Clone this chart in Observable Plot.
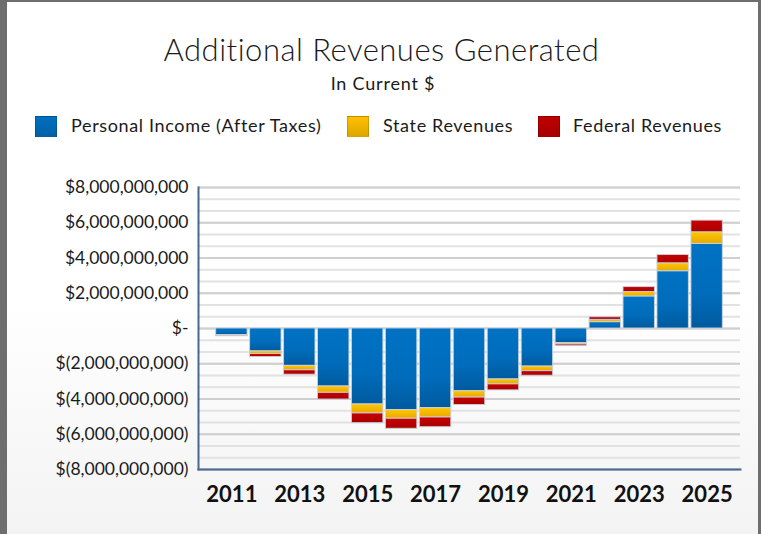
<!DOCTYPE html>
<html>
<head>
<meta charset="utf-8">
<script src="https://cdn.jsdelivr.net/npm/d3@7"></script>
<script src="https://cdn.jsdelivr.net/npm/@observablehq/plot@0.6"></script>
<style>
  html, body { margin: 0; padding: 0; background: #6e6e6e; }
  #frame { position: relative; width: 761px; height: 534px; background: #6e6e6e; overflow: hidden; font-family: Lato, "Noto Sans", sans-serif; }
  #panel { position: absolute; left: 7px; top: 2px; width: 751px; height: 532px;
           background: linear-gradient(#ffffff 0%, #ffffff 55%, #f3f3f3 100%); }
  .abs { position: absolute; white-space: nowrap; color: #1a1a1a; }
  #title { left: 0; width: 763px; text-align: center; top: 31px; font-size: 31px; line-height: 36px; font-weight: 300; letter-spacing: 0.5px; }
  #subtitle { left: 0; width: 766px; text-align: center; top: 72px; font-size: 18px; line-height: 22px; letter-spacing: 0.8px; }
  .sw { position: absolute; width: 22px; height: 21px; box-sizing: border-box; border: 1px solid rgba(0,0,0,0.15); }
  .lt { position: absolute; font-size: 18px; line-height: 22px; color: #1a1a1a; white-space: nowrap; letter-spacing: 0.65px; }
  #chart { position: absolute; left: 0; top: 170px; }
</style>
</head>
<body>
<svg width="0" height="0" style="position:absolute">
  <defs>
    <linearGradient id="gBlue" x1="0" y1="0" x2="0" y2="1">
      <stop offset="0" stop-color="#0072c4"/>
      <stop offset="0.6" stop-color="#006cbb"/>
      <stop offset="1" stop-color="#005a9e"/>
    </linearGradient>
    <linearGradient id="gYellow" x1="0" y1="0" x2="0" y2="1">
      <stop offset="0" stop-color="#ffc600"/>
      <stop offset="1" stop-color="#e8a900"/>
    </linearGradient>
    <linearGradient id="gRed" x1="0" y1="0" x2="0" y2="1">
      <stop offset="0" stop-color="#c80000"/>
      <stop offset="1" stop-color="#a80000"/>
    </linearGradient>
  </defs>
</svg>
<div id="frame">
  <div id="panel"></div>
  <div id="title" class="abs">Additional Revenues Generated</div>
  <div id="subtitle" class="abs">In Current $</div>
  <div id="legend"></div>
  <div id="chart"></div>
</div>
<script>
// ---- data (values in billions of dollars) ----
const years = ["2011","2012","2013","2014","2015","2016","2017","2018","2019","2020","2021","2022","2023","2024","2025"];
const personalIncome = [-0.38, -1.30, -2.12, -3.29, -4.31, -4.63, -4.52, -3.56, -2.89, -2.16, -0.83, 0.36, 1.82, 3.25, 4.80];
const stateRevenues  = [-0.03, -0.15, -0.25, -0.36, -0.51, -0.49, -0.53, -0.36, -0.28, -0.26, -0.08, 0.13, 0.25, 0.45, 0.66];
const federalRevenues= [-0.03, -0.17, -0.25, -0.38, -0.55, -0.57, -0.55, -0.42, -0.34, -0.26, -0.09, 0.15, 0.28, 0.47, 0.66];
const seriesNames = ["Personal Income (After Taxes)", "State Revenues", "Federal Revenues"];
const seriesColors = ["#0070c0", "#ffc000", "#c00000"];
const seriesFills = ["url(#gBlue)", "url(#gYellow)", "url(#gRed)"];
const yTicks = [-8e9, -6e9, -4e9, -2e9, 0, 2e9, 4e9, 6e9, 8e9];
const xTickLabels = ["2011","2013","2015","2017","2019","2021","2023","2025"];

// ---- table for Plot ----
const seriesValues = [personalIncome, stateRevenues, federalRevenues];
const table = [];
years.forEach((yr, i) => {
  seriesNames.forEach((s, k) => table.push({year: yr, series: s, value: seriesValues[k][i] * 1e9}));
});

// ---- legend ----
const legendPos = [{sw: 35, tx: 71}, {sw: 347, tx: 383}, {sw: 538, tx: 573}];
const legend = document.getElementById("legend");
seriesNames.forEach((s, k) => {
  const sw = document.createElement("div");
  sw.className = "sw";
  sw.style.left = legendPos[k].sw + "px";
  sw.style.top = "116px";
  sw.style.background = `linear-gradient(${seriesColors[k]}, ${d3.color(seriesColors[k]).darker(0.4)})`;
  legend.appendChild(sw);
  const t = document.createElement("div");
  t.className = "lt";
  t.style.left = legendPos[k].tx + "px";
  t.style.top = "114px";
  t.textContent = s;
  legend.appendChild(t);
});

// ---- chart ----
const fmt = d3.format(",");
const yFormat = d => d === 0 ? "$-" : d > 0 ? "$" + fmt(d) : "$(" + fmt(-d) + ")";
const minorGrid = d3.range(-12, 13).map(k => k * 2e9 / 3);

const plot = Plot.plot({
  width: 761,
  height: 340,
  marginLeft: 198,
  marginRight: 21,
  marginTop: 17,
  marginBottom: 41,
  style: {background: "transparent", fontFamily: "Lato, 'Noto Sans', sans-serif", color: "#1a1a1a", overflow: "visible"},
  x: {type: "band", domain: years, paddingInner: 0.074, paddingOuter: 0.52, round: false, label: null},
  y: {domain: [-8e9, 8e9], label: null},
  color: {domain: seriesNames, range: seriesFills},
  marks: [
    Plot.ruleY(minorGrid, {stroke: "#e2e2e2", strokeWidth: 2}),
    Plot.ruleY(yTicks, {stroke: "#cfcfcf", strokeWidth: 2}),
    Plot.barY(table, Plot.stackY({x: "year", y: "value", z: "series", fill: "series", order: null,
      stroke: "#c9d3de", strokeOpacity: 0.9, strokeWidth: 1})),
    Plot.axisY({ticks: yTicks, tickFormat: yFormat, tickSize: 0, tickPadding: 10, fontSize: 17.5, fill: "#1a1a1a", style: "letter-spacing: 0.3px"}),
    Plot.axisX({ticks: xTickLabels, tickSize: 0, tickPadding: 17, fontSize: 22, fontWeight: "bold", fill: "#111"}),
    Plot.frame({anchor: "left", stroke: "#4a6790", strokeWidth: 2}),
    Plot.frame({anchor: "bottom", stroke: "#4a6790", strokeWidth: 2})
  ]
});
document.getElementById("chart").appendChild(plot);
</script>
</body>
</html>
